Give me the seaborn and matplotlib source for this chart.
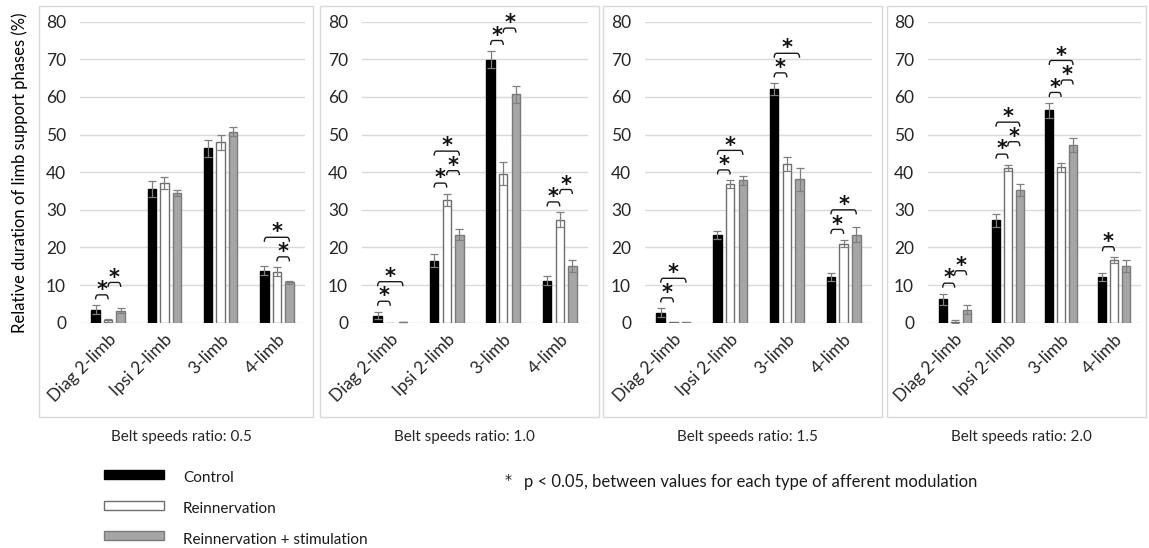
import matplotlib
matplotlib.use("Agg")
import matplotlib.pyplot as plt
from matplotlib import font_manager
from matplotlib.patches import Rectangle, PathPatch
from matplotlib.path import Path
import numpy as np
import pandas as pd
import seaborn as sns

# ---------------------------------------------------------------- data
phases = ["Diag 2-limb", "Ipsi 2-limb", "3-limb", "4-limb"]
groups = ["Control", "Reinnervation", "Reinnervation + stimulation"]
ratios = ["0.5", "1.0", "1.5", "2.0"]

# mean relative duration (%) per phase, one list per group and belt speed ratio
control_05 = [3.5, 35.6, 46.3, 13.8]
reinn_05 = [0.6, 37.1, 47.9, 13.5]
stim_05 = [3.2, 34.5, 50.8, 10.7]
control_10 = [1.9, 16.5, 69.9, 11.2]
reinn_10 = [0.0, 32.7, 39.6, 27.4]
stim_10 = [0.2, 23.4, 60.7, 15.1]
control_15 = [2.7, 23.3, 62.0, 12.1]
reinn_15 = [0.1, 36.8, 42.1, 21.0]
stim_15 = [0.1, 37.8, 38.1, 23.4]
control_20 = [6.2, 27.2, 56.4, 12.2]
reinn_20 = [0.3, 41.1, 41.3, 16.7]
stim_20 = [3.4, 35.2, 47.2, 15.1]

# standard error of the mean
control_05_sem = [1.1, 2.1, 2.2, 1.2]
reinn_05_sem = [0.3, 1.5, 2.1, 1.2]
stim_05_sem = [0.7, 0.8, 1.2, 0.5]
control_10_sem = [1.0, 1.8, 2.3, 1.3]
reinn_10_sem = [0.0, 1.6, 3.0, 1.9]
stim_10_sem = [0.1, 1.4, 2.2, 1.5]
control_15_sem = [1.1, 1.1, 1.6, 1.0]
reinn_15_sem = [0.0, 1.0, 1.9, 1.0]
stim_15_sem = [0.0, 1.2, 3.0, 2.0]
control_20_sem = [1.5, 1.8, 2.0, 1.1]
reinn_20_sem = [0.3, 0.9, 1.2, 0.7]
stim_20_sem = [1.2, 1.6, 1.9, 1.5]

# significant differences (p < 0.05): phase -> list of compared group pairs
sig_05 = {0: [(0, 1), (1, 2)], 3: [(1, 2), (0, 2)]}
sig_10 = {0: [(0, 1), (0, 2)], 1: [(0, 1), (1, 2), (0, 2)],
          2: [(0, 1), (1, 2)], 3: [(0, 1), (1, 2)]}
sig_15 = {0: [(0, 1), (0, 2)], 1: [(0, 1), (0, 2)],
          2: [(0, 1), (0, 2)], 3: [(0, 1), (0, 2)]}
sig_20 = {0: [(0, 1), (1, 2)], 1: [(0, 1), (1, 2), (0, 2)],
          2: [(0, 1), (1, 2), (0, 2)], 3: [(0, 1)]}

means = {"0.5": [control_05, reinn_05, stim_05],
         "1.0": [control_10, reinn_10, stim_10],
         "1.5": [control_15, reinn_15, stim_15],
         "2.0": [control_20, reinn_20, stim_20]}
sems = {"0.5": [control_05_sem, reinn_05_sem, stim_05_sem],
        "1.0": [control_10_sem, reinn_10_sem, stim_10_sem],
        "1.5": [control_15_sem, reinn_15_sem, stim_15_sem],
        "2.0": [control_20_sem, reinn_20_sem, stim_20_sem]}
sigs = {"0.5": sig_05, "1.0": sig_10, "1.5": sig_15, "2.0": sig_20}

# ---------------------------------------------------------------- style
sns.set_style("white")
available = {f.name for f in font_manager.fontManager.ttflist}
MAIN_FONT = "Lato" if "Lato" in available else "DejaVu Sans"
plt.rcParams["font.family"] = [MAIN_FONT, "DejaVu Sans"]

fill_colors = ["#000000", "#ffffff", "#a6a6a6"]
edge_colors = ["#000000", "#6e6e6e", "#7a7a7a"]
GRID = "#d9d9d9"
FRAME = "#d9d9d9"
TEXT = "#262626"

W, H = 1149, 548
fig = plt.figure(figsize=(W / 100, H / 100), dpi=100)


def fx(px):
    return px / W


def fy(py):
    return 1 - py / H


# panel chart areas (left, right) and plot areas (left, right), in pixels
frames = [(39, 313), (320, 599), (603, 882), (887, 1146)]
plots = [(80, 305), (362, 588), (645, 872), (928, 1141)]
PLOT_TOP, PLOT_BOTTOM = 21.7, 322.7
FRAME_TOP, FRAME_BOTTOM = 6, 417


def bracket(ax, x1, x2, y, h=1.2, r=0.045):
    verts = [(x1, y - h), (x1, y), (x1 + r, y), (x2 - r, y), (x2, y), (x2, y - h)]
    codes = [Path.MOVETO, Path.CURVE3, Path.CURVE3, Path.LINETO, Path.CURVE3, Path.CURVE3]
    ax.add_patch(PathPatch(Path(verts, codes), facecolor="none", edgecolor="#1a1a1a",
                           lw=1.0, clip_on=False))


for i, ratio in enumerate(ratios):
    f0, f1 = frames[i]
    fig.add_artist(Rectangle((fx(f0), fy(FRAME_BOTTOM)), fx(f1 - f0),
                             (FRAME_BOTTOM - FRAME_TOP) / H, transform=fig.transFigure,
                             facecolor="none", edgecolor=FRAME, lw=1.0))

    p0, p1 = plots[i]
    ax = fig.add_axes([fx(p0), fy(PLOT_BOTTOM), fx(p1 - p0), (PLOT_BOTTOM - PLOT_TOP) / H])

    df = pd.DataFrame({
        "phase": np.repeat([phases], 3, axis=0).ravel(),
        "group": np.repeat(groups, len(phases)),
        "value": np.concatenate(means[ratio]),
    })
    sns.barplot(data=df, x="phase", y="value", hue="group", order=phases,
                hue_order=groups, palette=fill_colors, width=0.67, gap=0.33,
                errorbar=None, legend=False, ax=ax, zorder=3)

    # bar outlines and error bars, taken from the drawn patches
    bars = ax.patches
    centers = np.zeros((3, len(phases)))
    tops = np.zeros((3, len(phases)))
    for g in range(3):
        for p in range(len(phases)):
            bar = bars[g * len(phases) + p]
            bar.set_edgecolor(edge_colors[g])
            bar.set_linewidth(1.0)
            cx = bar.get_x() + bar.get_width() / 2
            centers[g, p] = cx
            val = means[ratio][g][p]
            err = sems[ratio][g][p]
            tops[g, p] = val + err
            if err > 0:
                ax.errorbar(cx, val, yerr=err, fmt="none", ecolor="#7f7f7f",
                            elinewidth=0.9, capsize=2.6, capthick=0.9, zorder=4)

    # significance brackets stacked above the bars they compare
    for p, pairs in sigs[ratio].items():
        placed = []
        for a, b in pairs:
            x1, x2 = centers[a, p], centers[b, p]
            y = tops[a:b + 1, p].max() + 2.8
            for (q1, q2, qy) in placed:
                if q2 >= x1 - 1e-9 and q1 <= x2 + 1e-9:
                    qm = (q1 + q2) / 2
                    step = 5.2 if x1 < qm < x2 else 3.3
                    y = max(y, qy + step)
            placed.append((x1, x2, y))
            bracket(ax, x1, x2, y)
            ax.text((x1 + x2) / 2, y - 0.3, "*", ha="center", va="baseline",
                    fontsize=15, fontweight="bold", family="DejaVu Sans",
                    color="#111111", clip_on=False)

    ax.set_ylim(0, 80)
    ax.set_xlim(-0.5, len(phases) - 0.5)
    ax.set_yticks(range(0, 81, 10))
    ax.yaxis.grid(True, color=GRID, lw=1.0, zorder=0)
    ax.set_axisbelow(True)
    for s in ax.spines.values():
        s.set_visible(False)
    ax.tick_params(axis="both", length=0, labelsize=12.5, colors=TEXT)
    ax.tick_params(axis="y", pad=10)
    ax.set_xlabel("")
    ax.set_ylabel("")
    ax.set_xticks(range(len(phases)))
    ax.set_xticklabels(phases, rotation=45, ha="right", va="top",
                       rotation_mode="anchor", fontsize=12.5)
    ax.tick_params(axis="x", pad=6)

    fig.text(fx((f0 + f1) / 2 + 5), fy(437), f"Belt speeds ratio: {ratio}",
             ha="center", va="center", fontsize=11, color=TEXT)

fig.text(fx(20), fy(173), "Relative duration of limb support phases (%)",
         rotation=90, ha="center", va="center", fontsize=12, color="#000000")

# legend
legend_rows = [474.5, 505, 535.5]
for g, yy in enumerate(legend_rows):
    fig.add_artist(Rectangle((fx(104), fy(yy + 4.5)), fx(60), 9 / H,
                             transform=fig.transFigure, facecolor=fill_colors[g],
                             edgecolor=edge_colors[g], lw=1.0))
    fig.text(fx(183), fy(yy + 4), groups[g], ha="left", va="center",
             fontsize=11, color="#1a1a1a")

fig.text(fx(508), fy(480), "*", ha="center", va="center", fontsize=10,
         family="DejaVu Sans", color="#1a1a1a")
fig.text(fx(524), fy(482), "p < 0.05, between values for each type of afferent modulation",
         ha="left", va="center", fontsize=12, color="#1a1a1a")

fig.savefig("out.png", dpi=100)
